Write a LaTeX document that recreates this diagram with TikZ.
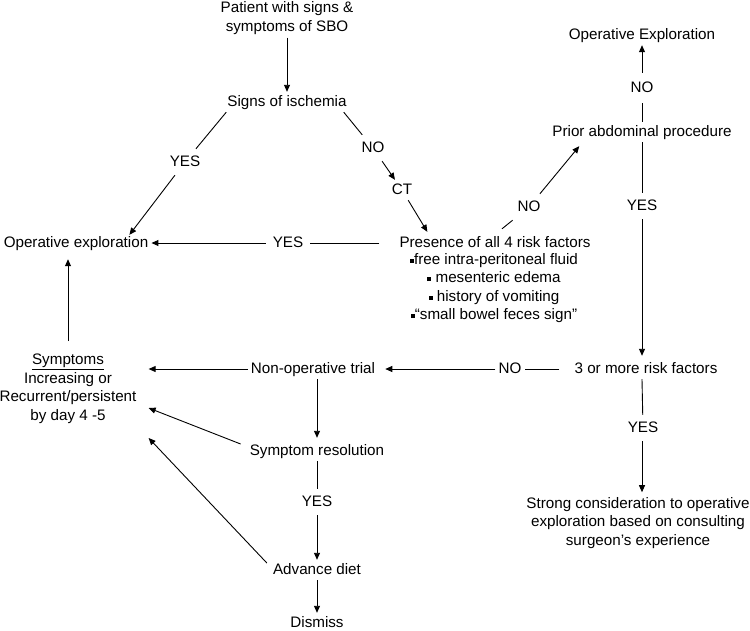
\documentclass[tikz,border=0pt]{standalone}
\usepackage{fontspec}
\setmainfont{Liberation Sans}
\usetikzlibrary{arrows.meta,calc}
\begin{document}
\begin{tikzpicture}[x=1pt,y=-1pt,
  every node/.style={font=\fontsize{15.2}{18.5}\selectfont, inner sep=3pt, align=center},
  one/.style={text height=11pt, text depth=3pt},
  lbl/.style={one, inner sep=6pt},
  ln/.style={draw=black, line width=0.9pt},
  arr/.style={ln, -{Triangle[length=7pt,width=6pt]}}]
\useasboundingbox (0,0) rectangle (750,630);

% main nodes
\node (pat) at (287,18) {Patient with signs \&\\symptoms of SBO};
\node[one] (sig) at (287,102) {Signs of ischemia};
\node[one] (opex) at (76,243) {Operative exploration};
\node[one] (ct) at (402,190) {CT};
\node[one] (pres) at (495,243) {Presence of all 4 risk factors};
\node (list) at (494,288) {\rule[1.5pt]{4pt}{4pt}free intra-peritoneal fluid\\
  \rule[1.5pt]{4pt}{4pt} mesenteric edema\\
  \rule[1.5pt]{4pt}{4pt} history of vomiting\\
  \rule[1.5pt]{4pt}{4pt}\textquotedblleft small bowel feces sign\textquotedblright};
\node[one] (prior) at (642,132) {Prior abdominal procedure};
\node[one] (opEx) at (642,35) {Operative Exploration};
\node[one] (three) at (646,369) {3 or more risk factors};
\node[one] (nonop) at (313,369) {Non-operative trial};
\node[inner xsep=12pt] (symp) at (68,389) {\underline{Symptoms}\\Increasing or\\Recurrent/persistent\\by day 4 -5};
\node[one] (res) at (317,451) {Symptom resolution};
\node[one] (diet) at (317,570) {Advance diet};
\node[one] (dis) at (317,623) {Dismiss};
\node (strong) at (638,523) {Strong consideration to operative\\exploration based on consulting\\surgeon's experience};

% labels
\node[lbl] (yes1) at (185,162) {YES};
\node[lbl] (no1) at (373,148) {NO};
\node[lbl,inner xsep=7pt] (yes2) at (288,243) {YES};
\node[lbl] (no2) at (529,207) {NO};
\node[lbl,inner ysep=8pt] (no3) at (642,88) {NO};
\node[lbl] (yes3) at (642,206) {YES};
\node[lbl,inner xsep=3pt] (no4) at (510,369) {NO};
\node[lbl] (yes4) at (643,428) {YES};
\node[lbl] (yes5) at (317,502) {YES};

% connectors
\draw[arr] (pat) -- (sig);
\draw[ln] ([xshift=2pt]sig.south west) -- (yes1);
\draw[arr] (yes1) -- ([xshift=-22pt,yshift=-2pt]opex.north east);
\draw[ln] ([xshift=-6pt]sig.south east) -- (no1);
\draw[arr] (no1) -- (ct);
\draw[arr] (ct) -- ([xshift=31pt,yshift=1pt]pres.north west);
\draw[ln, shorten <=17pt] (pres) -- (yes2);
\draw[arr] (yes2) -- (opex);
\draw[ln] ([xshift=7pt,yshift=4pt]pres.north) -- (no2);
\draw[arr] (no2) -- ([xshift=30pt,yshift=-4pt]prior.south west);
\draw[ln] (prior) -- (no3);
\draw[arr] (no3) -- (opEx);
\draw[ln] (prior) -- (yes3);
\draw[arr] (yes3.south -| prior) -- ([yshift=3pt]prior |- three.north);
\draw[ln, shorten <=12pt] (three.west) -- (no4.east);
\draw[arr, shorten >=7pt] (no4) -- (nonop);
\draw[ln] (three.south -| prior) -- (yes4);
\draw[arr] (yes4.south -| prior) -- ([yshift=2pt]prior |- strong.north);
\draw[arr] (nonop.west) -- (nonop.west -| symp.east);
\draw[arr] (nonop.south -| res) -- ([yshift=3pt]res.north);
\draw[arr] ([xshift=-6pt,yshift=7pt]res.west) -- ([yshift=-19pt]symp.east);
\draw[ln] (res) -- (yes5);
\draw[arr] (yes5) -- (diet);
\draw[arr] ([xshift=-3pt,yshift=7pt]diet.west) -- ([yshift=-49pt]symp.east);
\draw[arr] (diet) -- (dis);
\draw[arr] ([yshift=10pt]symp.north) -- ([yshift=-6pt]symp.north |- opex.south);
\end{tikzpicture}
\end{document}
